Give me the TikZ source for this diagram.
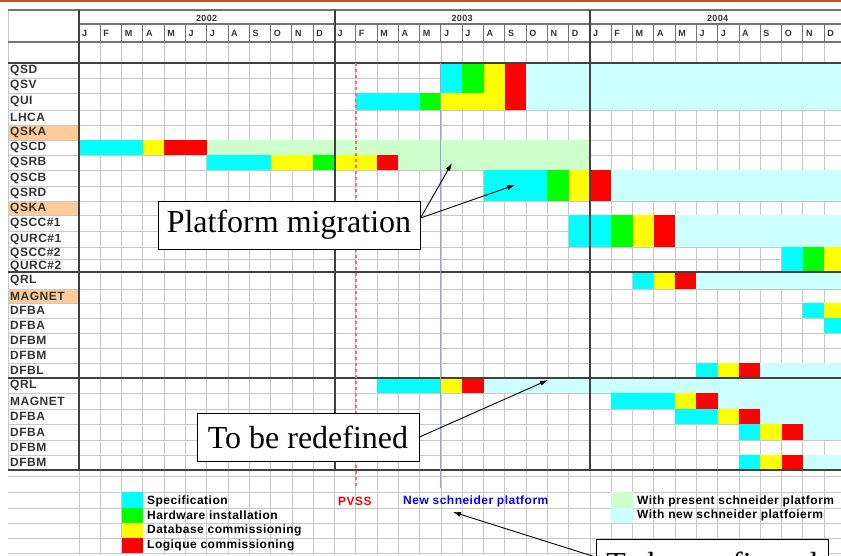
\documentclass[tikz,border=0pt]{standalone}
\usepackage{fontspec}
\setmainfont{Liberation Serif}
\newfontfamily\xlsfont[LetterSpace=4]{Liberation Sans}
\usetikzlibrary{arrows.meta,positioning}
\definecolor{spec}{HTML}{00FFFF}
\definecolor{hard}{HTML}{00FF00}
\definecolor{dbase}{HTML}{FFFF00}
\definecolor{logic}{HTML}{FF0000}
\definecolor{oldplat}{HTML}{CCFFCC}
\definecolor{newplat}{HTML}{CCFFFF}
\definecolor{sysrow}{HTML}{FFCC99}
\definecolor{topbar}{HTML}{B5561F}
\definecolor{gridgray}{HTML}{C8C8C8}
\definecolor{framegray}{HTML}{404040}
\definecolor{pvssline}{HTML}{FF6A6A}
\definecolor{newline}{HTML}{8FA6E8}

\begin{document}
\begin{tikzpicture}[
      x=1pt, y=-1pt, % pixel grid, y downwards
      rowlabel/.style={anchor=west, inner sep=0pt, text=black!80, font=\xlsfont\bfseries\fontsize{12}{12}\selectfont},
      hdr/.style={inner sep=0pt, text=black!80, font=\xlsfont\bfseries\fontsize{9}{9}\selectfont},
      legendtext/.style={anchor=west, inner sep=0pt, font=\xlsfont\bfseries\fontsize{12}{12}\selectfont},
      callout/.style={draw=black, line width=1pt, fill=white, inner sep=0pt, font=\fontsize{32}{32}\selectfont},
      pointer/.style={-{Latex[length=8pt,width=5pt]}, line width=0.9pt},
      thingrid/.style={gridgray, line width=0.8pt},
      hdrline/.style={black!55, line width=1.1pt},
      frame/.style={framegray, line width=2pt}
    ]
\useasboundingbox (0,0) rectangle (841,555);
\clip (0,0) rectangle (841,555);

% top rule
\fill[topbar] (0,0) rectangle (841,2);

% highlighted system rows
\foreach \ya/\yb in {125/140, 201/215, 289/303}
  \fill[sysrow] (8,\ya) rectangle (78,\yb);

% sheet grid
\foreach \m in {0,...,36}
  \draw[thingrid] ({79+21.29*\m},42) -- ({79+21.29*\m},555);
\foreach \y in {78,93,110,125,140,155,170,186,201,215,231,247,259.5,289,303,318,333,348,363,393,409,424,440,455,476,492,508,523,538,553}
  \draw[thingrid] (8,\y) -- (841,\y);
\draw[thingrid] (8,10) -- (8,470);

% planning bars: top/bottom/first month/last month/colour
\foreach \ya/\yb/\ma/\mb/\col in {
    63/93/17/17/spec, 63/93/18/18/hard, 63/110/19/19/dbase, 63/110/20/20/logic, 63/110/21/35/newplat,
    93/110/13/15/spec, 93/110/16/16/hard, 93/110/17/18/dbase,
    140/155/0/2/spec, 140/155/3/3/dbase, 140/155/4/5/logic, 140/155/6/23/oldplat,
    155/170/6/8/spec, 155/170/9/10/dbase, 155/170/11/11/hard, 155/170/12/13/dbase, 155/170/14/14/logic, 155/170/15/23/oldplat,
    170/201/19/21/spec, 170/201/22/22/hard, 170/201/23/23/dbase, 170/201/24/24/logic, 170/201/25/35/newplat,
    215/247/23/24/spec, 215/247/25/25/hard, 215/247/26/26/dbase, 215/247/27/27/logic, 215/247/28/35/newplat,
    247/272/33/33/spec, 247/272/34/34/hard, 247/272/35/35/dbase,
    272/289/26/26/spec, 272/289/27/27/dbase, 272/289/28/28/logic, 272/289/29/35/newplat,
    303/318/34/34/spec, 303/318/35/35/dbase,
    318/333/35/35/spec,
    363/378/29/29/spec, 363/378/30/30/dbase, 363/378/31/31/logic, 363/378/32/35/newplat,
    378/393/14/16/spec, 378/393/17/17/dbase, 378/393/18/18/logic, 378/393/19/35/newplat,
    393/409/25/27/spec, 393/409/28/28/dbase, 393/409/29/29/logic, 393/409/30/35/newplat,
    409/424/28/29/spec, 409/424/30/30/dbase, 409/424/31/31/logic, 409/424/32/35/newplat,
    424/440/31/31/spec, 424/440/32/32/dbase, 424/440/33/33/logic, 424/440/34/35/newplat,
    455/470/31/31/spec, 455/470/32/32/dbase, 455/470/33/33/logic, 455/470/34/35/newplat}
  \fill[\col] ({79+21.29*\ma},\ya) rectangle ({79+21.29*(\mb+1)},\yb);

% header lines
\draw[hdrline] (8,10) -- (841,10);
\draw[hdrline] (79,24) -- (841,24);
\draw[hdrline] (8,42) -- (841,42);
\foreach \m in {1,...,35}
  \draw[hdrline, line width=0.9pt] ({79+21.29*\m},24) -- ({79+21.29*\m},42);

% section frame
\foreach \y in {63,272,378,470}
  \draw[frame] (8,\y) -- (841,\y);
\foreach \x in {79,334.5,590}
  \draw[frame] (\x,10) -- (\x,470);

% milestones
\draw[pvssline, line width=1.4pt, dash pattern=on 3pt off 3pt] (355.8,63) -- (355.8,488);
\draw[newline, line width=1pt] (440.9,63) -- (440.9,488);

% years and months
\node[hdr] (y2002) at (206.6,18) {2002};
\node[hdr] (y2003) at (462.1,18) {2003};
\node[hdr] (y2004) at (717.6,18) {2004};
\foreach \l [count=\i from 0] in {J,F,M,A,M,J,J,A,S,O,N,D,J,F,M,A,M,J,J,A,S,O,N,D,J,F,M,A,M,J,J,A,S,O,N,D}
  \node[hdr, anchor=west] (mon\i) at ({79+21.29*\i+3},33) {\l};

% equipment labels
\foreach \t/\y [count=\k] in {QSD/70.5, QSV/85.5, QUI/101.5, LHCA/117.5, QSKA/132.5, QSCD/147.5, QSRB/162.5,
    QSCB/178, QSRD/193.5, QSKA/208, QSCC\#1/223, QURC\#1/239, QSCC\#2/253, QURC\#2/266,
    QRL/280.5, MAGNET/296, DFBA/310.5, DFBA/325.5, DFBM/340.5, DFBM/355.5, DFBL/370.5,
    QRL/385.5, MAGNET/401, DFBA/416.5, DFBA/432, DFBM/447.5, DFBM/462.5}
  \node[rowlabel] (lbl\k) at (10,\y) {\t};

% legend
\foreach \col/\ya/\yb in {spec/492/508, hard/508/523, dbase/523/538, logic/538/553}
  \fill[\col] (121.6,\ya) rectangle (142.9,\yb);
\fill[oldplat] (611.3,492) rectangle (632.6,508);
\fill[newplat] (611.3,508) rectangle (632.6,523);
\node[legendtext] (lgspec) at (147,501) {Specification};
\node[legendtext] (lghard) at (147,515.5) {Hardware installation};
\node[legendtext] (lgdb) at (147,530.5) {Database commissioning};
\node[legendtext] (lglog) at (147,545.5) {Logique commissioning};
\node[legendtext, text=red] (lgpvss) at (338,501) {PVSS};
\node[legendtext, text=blue] (lgnew) at (403,501) {New schneider platform};
\node[legendtext] (lgold) at (637,501) {With present schneider platform};
\node[legendtext] (lgnewp) at (637,515.5) {With new schneider platfoierm};

% callouts
\node[callout, minimum width=262pt, minimum height=48pt] (platbox) at (289,225) {Platform migration};
\node[callout, minimum width=222pt, minimum height=48pt] (redefbox) at (308,437) {To be redefined};
\node[callout, minimum width=232pt, minimum height=48pt] (confbox) at (712,563) {To be confirmed};
\coordinate (migtipa) at (452,163);
\coordinate (migtipb) at (515,185);
\coordinate (redeftip) at (548,380);
\coordinate (conftip) at (453,512);
\draw[pointer] ([yshift=7pt]platbox.east) -- (migtipa);
\draw[pointer] ([yshift=7pt]platbox.east) -- (migtipb);
\draw[pointer] (redefbox.east) -- (redeftip);
\draw[pointer] ([yshift=6pt]confbox.west) -- (conftip);
\end{tikzpicture}
\end{document}
